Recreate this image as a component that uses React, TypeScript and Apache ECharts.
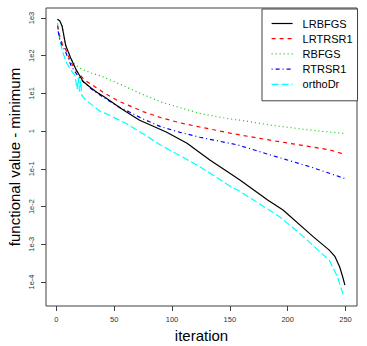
import React, { useEffect, useRef } from "react";
import * as echarts from "echarts";

// Iterations (x) and functional value - minimum (y)
const lrbfgsIter = [1, 3, 5, 8, 12, 17, 23, 30, 35, 42, 55, 60, 72, 95, 113, 133, 150, 159, 183, 196, 222, 236, 241, 245, 247.5, 249.5];
const lrbfgsVal = [930, 830, 600, 190, 93, 43, 21, 14, 10.7, 7.9, 4.2, 3.3, 1.95, 0.95, 0.48, 0.17, 0.076, 0.05, 0.0148, 0.0081, 0.0016, 0.0007, 0.00047, 0.00025, 0.00014, 0.000083];

const lrtrsr1Iter = [1, 3, 5, 8, 13, 19, 25, 32, 42, 55, 60, 75, 90, 107, 124, 150, 159, 185, 219, 236, 249];
const lrtrsr1Val = [630, 320, 210, 148, 63, 34, 22, 16, 10, 6.0, 5.2, 3.3, 2.3, 1.66, 1.29, 0.89, 0.79, 0.575, 0.39, 0.32, 0.245];

const rbfgsIter = [1, 3, 5, 8, 12, 14, 17, 22, 30, 37, 45, 60, 75, 90, 107, 124, 150, 159, 185, 219, 249];
const rbfgsVal = [930, 830, 630, 200, 93, 69, 55, 44, 35, 30, 24, 15, 9.3, 6.0, 4.2, 2.95, 2.1, 1.95, 1.45, 1.07, 0.87];

const rtrsr1Iter = [1, 3, 5, 8, 13, 19, 25, 32, 42, 55, 60, 75, 90, 107, 124, 157, 185, 219, 249];
const rtrsr1Val = [560, 260, 190, 126, 52, 28, 18, 12, 7.4, 4.2, 3.6, 2.1, 1.32, 0.93, 0.69, 0.43, 0.234, 0.115, 0.056];

const orthoIter = [1, 3, 6, 9, 13, 16, 18, 19, 20, 21, 22, 25, 30, 38, 42, 60, 75, 90, 124, 150, 159, 193, 210, 228, 236, 243, 248];
const orthoVal = [740, 250, 112, 63, 40, 30, 13, 26, 11.2, 22, 8.9, 6.8, 5.2, 3.3, 3.0, 1.62, 0.85, 0.43, 0.115, 0.035, 0.025, 0.0054, 0.002, 0.00063, 0.00038, 0.00014, 0.000046];

const seriesNames = ["LRBFGS", "LRTRSR1", "RBFGS", "RTRSR1", "orthoDr"];
const xTicks = [0, 50, 100, 150, 200, 250];
const yTickExponents = [-4, -3, -2, -1, 0, 1, 2, 3];

const FONT = "'Liberation Sans', Arial, Helvetica, sans-serif";

function pairs(xs: number[], ys: number[]) {
  return xs.map((x, i) => [x, Math.log10(ys[i])]);
}

export default function App() {
  const ref = useRef<HTMLDivElement>(null);
  useEffect(() => {
    if (!ref.current) return;
    const chart = echarts.init(ref.current, null, { renderer: "svg" });
    const styles = [
      { color: "#000000", type: "solid" as any },
      { color: "#ff0000", type: [4, 4] },
      { color: "#00cd00", type: [1, 3] },
      { color: "#0000ff", type: [1, 3, 4, 3] },
      { color: "#00ffff", type: [7, 3] },
    ];
    const datas = [
      pairs(lrbfgsIter, lrbfgsVal),
      pairs(lrtrsr1Iter, lrtrsr1Val),
      pairs(rbfgsIter, rbfgsVal),
      pairs(rtrsr1Iter, rtrsr1Val),
      pairs(orthoIter, orthoVal),
    ];
    const option: any = {
      animation: false,
      textStyle: { fontFamily: FONT },
      grid: {
        left: 46,
        top: 8,
        right: 10,
        bottom: 40,
        show: true,
        borderColor: "#404040",
        borderWidth: 1,
        backgroundColor: "transparent",
      },
      xAxis: {
        type: "value",
        min: -8.96,
        max: 259.96,
        axisLine: { show: false, onZero: false },
        splitLine: { show: false },
        axisTick: { show: true, length: 5, customValues: xTicks, lineStyle: { color: "#404040" } },
        axisLabel: {
          customValues: xTicks,
          fontSize: 7.5,
          color: "#333",
          margin: 9,
          fontFamily: FONT,
        },
      },
      yAxis: {
        type: "value",
        min: -4.636,
        max: 3.265,
        axisLine: { show: false, onZero: false },
        splitLine: { show: false },
        axisTick: { show: true, length: 5, customValues: yTickExponents, lineStyle: { color: "#404040" } },
        axisLabel: {
          customValues: yTickExponents,
          rotate: 90,
          fontSize: 7.5,
          color: "#333",
          margin: 11,
          fontFamily: FONT,
          formatter: (v: number) => (Math.round(v) === 0 ? "1" : "1e" + Math.round(v)),
        },
      },
      legend: {
        orient: "vertical",
        left: 262,
        top: 9,
        padding: [9, 5, 11, 9],
        itemWidth: 21,
        itemHeight: 10,
        itemGap: 4.2,
        borderColor: "#404040",
        borderWidth: 1,
        backgroundColor: "#fff",
        itemStyle: { opacity: 0 },
        lineStyle: { width: 1.2 },
        textStyle: { fontSize: 11, lineHeight: 10, color: "#000", fontFamily: FONT, padding: [0, 0, 0, 5] },
        data: seriesNames,
      },
      graphic: [
        {
          type: "text",
          x: 14,
          y: 157,
          rotation: Math.PI / 2,
          style: {
            text: "functional value - minimum",
            font: `15px ${FONT}`,
            fill: "#000",
            align: "center",
            verticalAlign: "middle",
          },
        },
        {
          type: "text",
          x: 201.5,
          y: 335,
          style: {
            text: "iteration",
            font: `15px ${FONT}`,
            fill: "#000",
            align: "center",
            verticalAlign: "middle",
          },
        },
      ],
      series: seriesNames.map((name, i) => ({
        name,
        type: "line",
        data: datas[i],
        symbol: "none",
        showSymbol: false,
        smooth: false,
        lineStyle: { color: styles[i].color, width: 1.2, type: styles[i].type },
        itemStyle: { color: styles[i].color },
        z: 10 - i,
      })),
    };
    chart.setOption(option);
    return () => chart.dispose();
  }, []);
  return (
    <div
      ref={ref}
      style={{ position: "absolute", left: 0, top: 0, width: 367, height: 346, background: "#fff" }}
    />
  );
}
